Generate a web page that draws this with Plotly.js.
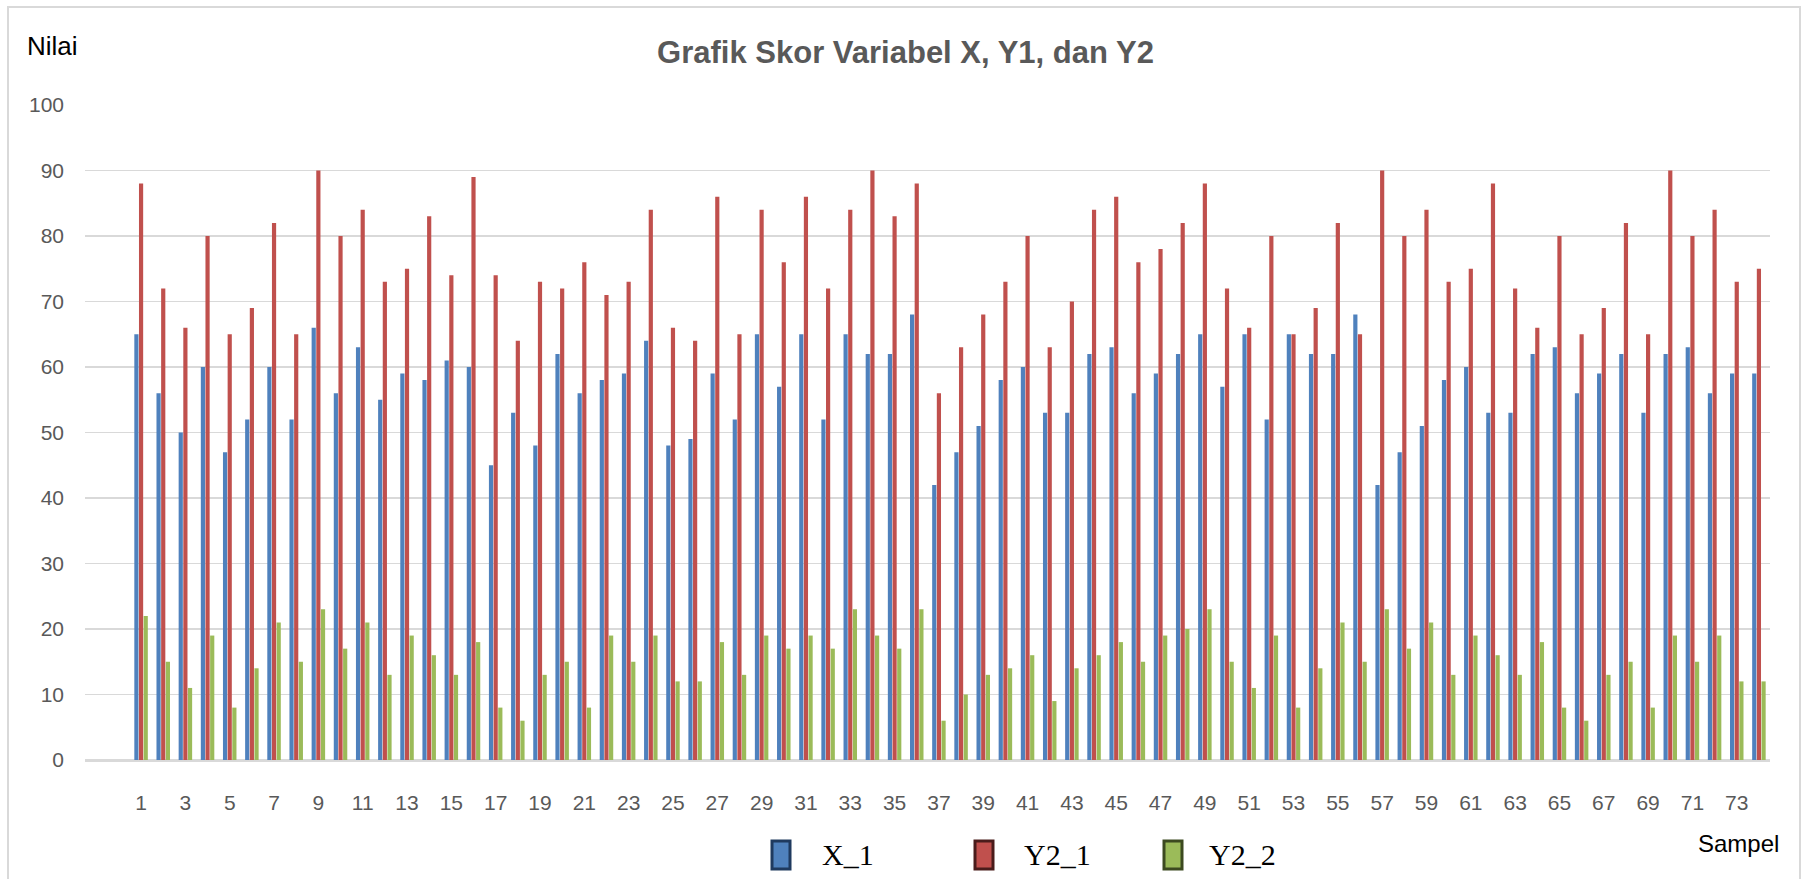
<!DOCTYPE html>
<html>
<head>
<meta charset="utf-8">
<script src="https://cdn.plot.ly/plotly-3.0.1.min.js"></script>
<style>
  html, body { margin: 0; padding: 0; background: #fff; }
  #wrap { position: relative; width: 1811px; height: 879px; overflow: hidden; }
  #chart { width: 1811px; height: 879px; }
  #frame { position: absolute; left: 7px; top: 6px; width: 1790px; height: 900px;
           border: 2px solid #d9d9d9; pointer-events: none; }
</style>
</head>
<body>
<div id="wrap"><div id="chart"></div><div id="frame"></div></div>
<script>
const samples = Array.from({length: 74}, (_, i) => String(i + 1));
const tickLabels = samples.filter((s, i) => i % 2 === 0);
const seriesNames = ["X_1", "Y2_1", "Y2_2"];
const x1 = [65,56,50,60,47,52,60,52,66,56,63,55,59,58,61,60,45,53,48,62,56,58,59,64,48,49,59,52,65,57,65,52,65,62,62,68,42,47,51,58,60,53,53,62,63,56,59,62,65,57,65,52,65,62,62,68,42,47,51,58,60,53,53,62,63,56,59,62,53,62,63,56,59,59];
const y21 = [88,72,66,80,65,69,82,65,90,80,84,73,75,83,74,89,74,64,73,72,76,71,73,84,66,64,86,65,84,76,86,72,84,90,83,88,56,63,68,73,80,63,70,84,86,76,78,82,88,72,66,80,65,69,82,65,90,80,84,73,75,88,72,66,80,65,69,82,65,90,80,84,73,75];
const y22 = [22,15,11,19,8,14,21,15,23,17,21,13,19,16,13,18,8,6,13,15,8,19,15,19,12,12,18,13,19,17,19,17,23,19,17,23,6,10,13,14,16,9,14,16,18,15,19,20,23,15,11,19,8,14,21,15,23,17,21,13,19,16,13,18,8,6,13,15,8,19,15,19,12,12];
const colors = ["#4F81BD", "#C0504D", "#9BBB59"];
const darkColors = ["#1F3A5F", "#4A1C1B", "#3C4A20"];
const values = [x1, y21, y22];

const traces = values.map((v, i) => ({
  type: "bar", x: samples, y: v, name: seriesNames[i], showlegend: false,
  marker: { color: colors[i], line: { width: 0 } },
  hoverinfo: "x+y+name"
}));

// plot-area geometry (px) for placing the legend, title labels
const L = 85, R = 1770, T = 105, B = 760;
const px = v => (v - L) / (R - L);
const py = v => (B - v) / (B - T);

// custom legend: swatch boxes + labels
const legendBoxLeft = [772, 975, 1164];
const legendTextLeft = [820, 1022, 1207];
const shapes = [], annotations = [];
seriesNames.forEach((n, i) => {
  shapes.push({ type: "rect", xref: "paper", yref: "paper",
    x0: px(legendBoxLeft[i]), x1: px(legendBoxLeft[i] + 18), y0: py(869), y1: py(841),
    fillcolor: colors[i], line: { color: darkColors[i], width: 3 } });
  annotations.push({ text: n, xref: "paper", yref: "paper", x: px(legendTextLeft[i]), xanchor: "left",
    y: py(855), yanchor: "middle", showarrow: false,
    font: { family: "Liberation Serif, Times New Roman, serif", size: 30, color: "#000000" } });
});
annotations.push(
  { text: "Nilai", xref: "paper", yref: "paper", x: px(25), xanchor: "left",
    y: py(46), yanchor: "middle", showarrow: false,
    font: { family: "Liberation Sans, Arial, sans-serif", size: 26, color: "#000000" } },
  { text: "Sampel", xref: "paper", yref: "paper", x: px(1781), xanchor: "right",
    y: py(843), yanchor: "middle", showarrow: false,
    font: { family: "Liberation Sans, Arial, sans-serif", size: 24, color: "#000000" } }
);

const layout = {
  width: 1811, height: 879,
  margin: { l: L, r: 1811 - R, t: T, b: 879 - B, pad: 0 },
  paper_bgcolor: "#ffffff", plot_bgcolor: "#ffffff",
  barmode: "group", bargap: 0.37, bargroupgap: 0.1,
  showlegend: false,
  title: { text: "<b>Grafik Skor Variabel X, Y1, dan Y2</b>", x: 0.5, xanchor: "center",
           y: 1 - 52/879, yanchor: "middle", yref: "container",
           font: { family: "Liberation Sans, Arial, sans-serif", size: 31, color: "#595959" } },
  xaxis: {
    type: "category", range: [-2.53, 73.5], tickmode: "array",
    tickvals: tickLabels, ticktext: tickLabels, ticks: "", ticklabelstandoff: 23,
    showgrid: false, showline: true, linecolor: "#d9d9d9", linewidth: 1.5,
    tickfont: { family: "Liberation Sans, Arial, sans-serif", size: 21, color: "#595959" },
    fixedrange: true
  },
  yaxis: {
    range: [0, 100], dtick: 10, tick0: 0, ticks: "", ticklabelstandoff: 20,
    showgrid: true, gridcolor: "#d9d9d9", gridwidth: 1.5,
    zeroline: true, zerolinecolor: "#d9d9d9", zerolinewidth: 1.5,
    tickfont: { family: "Liberation Sans, Arial, sans-serif", size: 21, color: "#595959" },
    fixedrange: true
  },
  shapes: shapes,
  annotations: annotations
};

Plotly.newPlot("chart", traces, layout, { displayModeBar: false, staticPlot: true });
</script>
</body>
</html>
